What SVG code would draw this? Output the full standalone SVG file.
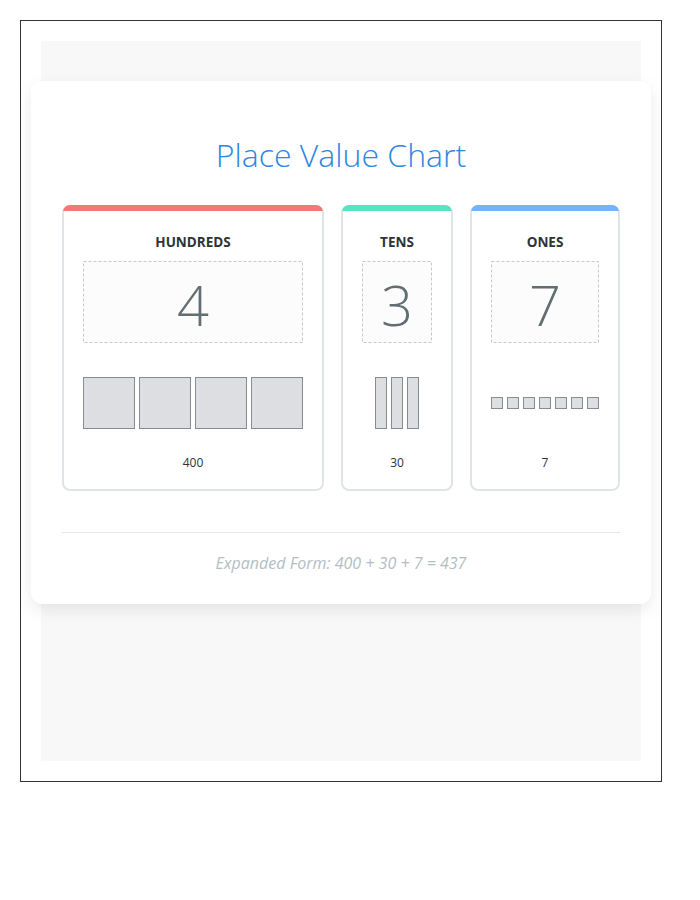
<svg xmlns="http://www.w3.org/2000/svg" width="700" height="900" viewBox="0 0 700 900">
  <defs>
    <filter id="shadow" x="-10%" y="-10%" width="120%" height="130%">
      <feDropShadow dx="0" dy="6" stdDeviation="8" flood-color="#000" flood-opacity="0.08"/>
    </filter>
    <style>
      .col { fill: #ffffff; stroke: #dfe4e6; stroke-width: 2; }
      .label { font-family: "Open Sans", "Noto Sans", "DejaVu Sans", sans-serif; font-size: 13.5px; font-weight: 700; fill: #2d3436; text-anchor: middle; }
      .digitbox { fill: #fcfcfc; stroke: #c8c8c8; stroke-width: 1; stroke-dasharray: 3 2; }
      .digit { font-family: "Open Sans", "Noto Sans", "DejaVu Sans", sans-serif; font-size: 56px; font-weight: 300; fill: #636e72; text-anchor: middle; }
      .block { fill: #dcdee1; stroke: #868b8f; stroke-width: 1; }
      .value { font-family: "Open Sans", "Noto Sans", "DejaVu Sans", sans-serif; font-size: 12px; fill: #2d3436; text-anchor: middle; }
    </style>
  </defs>
  <rect x="0" y="0" width="700" height="900" fill="#ffffff"/>
  <rect x="20.5" y="20.5" width="641" height="761" fill="#ffffff" stroke="#333333" stroke-width="1"/>
  <rect x="41" y="41" width="600" height="720" fill="#f8f8f8"/>
  <g id="card">
    <rect x="31" y="81" width="620" height="523" rx="12" fill="#ffffff" filter="url(#shadow)"/>
    <text x="341" y="167" font-family="'Open Sans', 'Noto Sans', sans-serif" font-size="32" font-weight="300" fill="#2e86de" text-anchor="middle">Place Value Chart</text>
  </g>
  <g id="hundreds">
    <rect class="col" x="63" y="206" width="260" height="284" rx="7"/>
    <path d="M63 212 A7 7 0 0 1 70 205 H316 A7 7 0 0 1 323 212 V211 H63 Z" fill="#f27a72"/>
    <text class="label" x="193" y="247">HUNDREDS</text>
    <rect class="digitbox" x="83.5" y="261.5" width="219" height="81"/>
    <text class="digit" x="193" y="326">4</text>
    <rect class="block" x="83.5" y="377.5" width="51" height="51"/>
    <rect class="block" x="139.5" y="377.5" width="51" height="51"/>
    <rect class="block" x="195.5" y="377.5" width="51" height="51"/>
    <rect class="block" x="251.5" y="377.5" width="51" height="51"/>
    <text class="value" x="193" y="467">400</text>
  </g>
  <g id="tens">
    <rect class="col" x="342" y="206" width="110" height="284" rx="7"/>
    <path d="M342 212 A7 7 0 0 1 349 205 H445 A7 7 0 0 1 452 212 V211 H342 Z" fill="#55e6c1"/>
    <text class="label" x="397" y="247">TENS</text>
    <rect class="digitbox" x="362.5" y="261.5" width="69" height="81"/>
    <text class="digit" x="397" y="326">3</text>
    <rect class="block" x="375.5" y="377.5" width="11" height="51"/>
    <rect class="block" x="391.5" y="377.5" width="11" height="51"/>
    <rect class="block" x="407.5" y="377.5" width="11" height="51"/>
    <text class="value" x="397" y="467">30</text>
  </g>
  <g id="ones">
    <rect class="col" x="471" y="206" width="148" height="284" rx="7"/>
    <path d="M471 212 A7 7 0 0 1 478 205 H612 A7 7 0 0 1 619 212 V211 H471 Z" fill="#74b3f7"/>
    <text class="label" x="545" y="247">ONES</text>
    <rect class="digitbox" x="491.5" y="261.5" width="107" height="81"/>
    <text class="digit" x="545" y="326">7</text>
    <rect class="block" x="491.5" y="397.5" width="11" height="11"/>
    <rect class="block" x="507.5" y="397.5" width="11" height="11"/>
    <rect class="block" x="523.5" y="397.5" width="11" height="11"/>
    <rect class="block" x="539.5" y="397.5" width="11" height="11"/>
    <rect class="block" x="555.5" y="397.5" width="11" height="11"/>
    <rect class="block" x="571.5" y="397.5" width="11" height="11"/>
    <rect class="block" x="587.5" y="397.5" width="11" height="11"/>
    <text class="value" x="545" y="467">7</text>
  </g>
  <g id="footer">
    <line x1="62" y1="532.5" x2="620" y2="532.5" stroke="#e6e6e6" stroke-width="1"/>
    <text x="341" y="569" font-family="'Open Sans', 'Noto Sans', sans-serif" font-size="16" font-style="italic" fill="#b2bec3" text-anchor="middle">Expanded Form: 400 + 30 + 7 = 437</text>
  </g>
</svg>
